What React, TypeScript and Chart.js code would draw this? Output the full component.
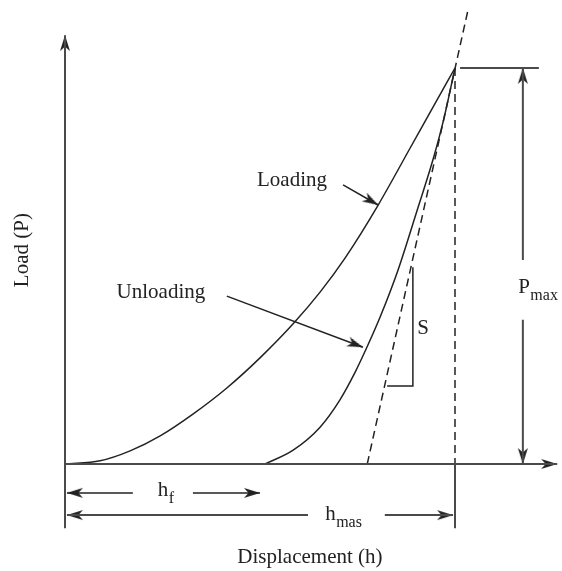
import React, { useEffect, useRef } from "react";
import { Chart, registerables } from "chart.js";

Chart.register(...registerables);

// ---- Data (displacement h and load P in arbitrary units, h_max = 10, P_max = 10) ----
const hLoading = [0, 0.9, 1.67, 2.44, 3.28, 4.15, 5.0, 5.85, 6.54, 7.18, 8.03, 8.85, 9.44, 10];
const pLoading = [0, 0.08, 0.33, 0.71, 1.26, 1.92, 2.68, 3.54, 4.34, 5.2, 6.54, 7.98, 9.02, 10];

const hUnloading = [5.13, 5.85, 6.54, 7.05, 7.44, 7.77, 8.08, 8.54, 9.03, 9.44, 9.72, 10];
const pUnloading = [0, 0.35, 0.93, 1.62, 2.32, 3.01, 3.71, 4.9, 6.41, 7.7, 8.74, 10];

// tangent (stiffness S) line: through (7.75, 0) and the peak
const hTangent = [7.75, 10.33];
const pTangent = [0, 11.45];

// guide / dimension lines (x values, y values)
const yAxisH = [0, 0];
const yAxisP = [0, 10.83];
const xAxisH = [0, 12.62];
const xAxisP = [0, 0];
const peakDropH = [10, 10];
const peakDropP = [10, 0];
const tickLeftH = [0, 0];
const tickLeftP = [0, -1.62];
const tickRightH = [10, 10];
const tickRightP = [0, -1.62];
const pMaxRefH = [10.13, 12.15];
const pMaxRefP = [10, 10];
const pMaxUpperH = [11.74, 11.74];
const pMaxUpperP = [10, 5.15];
const pMaxLowerH = [11.74, 11.74];
const pMaxLowerP = [3.64, 0];
const slopeTriH = [8.26, 8.92, 8.92];
const slopeTriP = [1.97, 1.97, 4.97];
const hfLeftH = [0.05, 1.74];
const hfRightH = [3.28, 5.0];
const hfP = [-0.73, -0.73];
const hmasLeftH = [0.05, 6.23];
const hmasRightH = [8.2, 9.95];
const hmasP = [-1.29, -1.29];
const loadPtrH = [7.13, 8.03];
const loadPtrP = [7.05, 6.54];
const unloadPtrH = [4.15, 7.64];
const unloadPtrP = [4.24, 2.95];

// arrow heads: tip (x, y) and the point it comes from (fx, fy)
const arrowTipH = [0, 12.62, 11.74, 11.74, 0.05, 5.0, 0.05, 9.95, 8.03, 7.64];
const arrowTipP = [10.83, 0, 10, 0, -0.73, -0.73, -1.29, -1.29, 6.54, 2.95];
const arrowFromH = [0, 0, 11.74, 11.74, 1, 4, 1, 9, 7.13, 4.15];
const arrowFromP = [0, 0, 5, 4, -0.73, -0.73, -1.29, -1.29, 7.05, 4.24];

// text labels
const plainLabels = ["Loading", "Unloading", "S"];
const plainLabelH = [5.82, 2.46, 9.18];
const plainLabelP = [7.15, 4.34, 3.43];

const subMain = ["P", "h", "h"];
const subText = ["max", "f", "mas"];
const subLabelH = [11.62, 2.38, 6.67];
const subLabelP = [4.32, -0.81, -1.41];

const xTitle = "Displacement (h)";
const xTitlePos = [6.28, -2.36];
const yTitle = "Load (P)";
const yTitlePos = [-1.08, 5.4];

const INK = "#222222";
const AXIS = "#4a4a4a";
const FONT = "'Liberation Serif', 'Times New Roman', serif";

const pts = (xs: number[], ys: number[]) => xs.map((x, i) => ({ x, y: ys[i] }));

function makeArrowHead(): HTMLCanvasElement {
  const c = document.createElement("canvas");
  c.width = 36;
  c.height = 18;
  const g = c.getContext("2d")!;
  g.fillStyle = INK;
  g.beginPath();
  g.moveTo(18, 9);
  g.lineTo(2, 4);
  g.lineTo(6.5, 9);
  g.lineTo(2, 14);
  g.closePath();
  g.fill();
  return c;
}

const line = (data: { x: number; y: number }[], opts: any = {}) => ({
  data,
  showLine: true,
  borderColor: INK,
  borderWidth: 1.5,
  pointRadius: 0,
  pointHoverRadius: 0,
  fill: false,
  ...opts,
});

const textPlugin = {
  id: "schematicText",
  afterDatasetsDraw(chart: any) {
    const { ctx, scales } = chart;
    const X = (v: number) => scales.x.getPixelForValue(v);
    const Y = (v: number) => scales.y.getPixelForValue(v);
    ctx.save();
    ctx.fillStyle = INK;
    ctx.font = `21px ${FONT}`;
    ctx.textAlign = "center";
    ctx.textBaseline = "middle";
    plainLabels.forEach((t, i) => ctx.fillText(t, X(plainLabelH[i]), Y(plainLabelP[i])));
    ctx.fillText(xTitle, X(xTitlePos[0]), Y(xTitlePos[1]));
    ctx.save();
    ctx.translate(X(yTitlePos[0]), Y(yTitlePos[1]));
    ctx.rotate(-Math.PI / 2);
    ctx.fillText(yTitle, 0, 0);
    ctx.restore();
    ctx.textAlign = "left";
    ctx.textBaseline = "alphabetic";
    subMain.forEach((t, i) => {
      const x0 = X(subLabelH[i]);
      const y0 = Y(subLabelP[i]);
      ctx.font = `21px ${FONT}`;
      ctx.fillText(t, x0, y0);
      const w = ctx.measureText(t).width;
      ctx.font = `16px ${FONT}`;
      ctx.fillText(subText[i], x0 + w + 0.5, y0 + 7);
    });
    ctx.restore();
  },
};

const W = 562;
const H = 571;

export default function App() {
  const ref = useRef<HTMLCanvasElement | null>(null);
  useEffect(() => {
    if (!ref.current) return;
    const arrowImg = makeArrowHead();
    const arrowData = arrowTipH.map((x, i) => ({
      x,
      y: arrowTipP[i],
      fx: arrowFromH[i],
      fy: arrowFromP[i],
    }));
    const dashed = { borderDash: [8, 5], borderWidth: 1.5 };
    const axisStyle = { borderColor: AXIS, borderWidth: 2 };
    const chart = new Chart(ref.current, {
      type: "scatter",
      data: {
        datasets: [
          line(pts(yAxisH, yAxisP), axisStyle),
          line(pts(xAxisH, xAxisP), axisStyle),
          line(pts(tickLeftH, tickLeftP), axisStyle),
          line(pts(tickRightH, tickRightP), axisStyle),
          line(pts(hLoading, pLoading), { cubicInterpolationMode: "monotone", label: "Loading" }),
          line(pts(hUnloading, pUnloading), { cubicInterpolationMode: "monotone", label: "Unloading" }),
          line(pts(hTangent, pTangent), dashed),
          line(pts(peakDropH, peakDropP), dashed),
          line(pts(pMaxRefH, pMaxRefP), axisStyle),
          line(pts(pMaxUpperH, pMaxUpperP), axisStyle),
          line(pts(pMaxLowerH, pMaxLowerP), axisStyle),
          line(pts(slopeTriH, slopeTriP)),
          line(pts(hfLeftH, hfP)),
          line(pts(hfRightH, hfP)),
          line(pts(hmasLeftH, hmasP), axisStyle),
          line(pts(hmasRightH, hmasP), axisStyle),
          line(pts(loadPtrH, loadPtrP)),
          line(pts(unloadPtrH, unloadPtrP)),
          {
            data: arrowData,
            showLine: false,
            pointRadius: 6,
            pointHoverRadius: 6,
            pointStyle: arrowImg,
            rotation: (c: any) => {
              const p = c.raw;
              if (!p) return 0;
              const sx = c.chart.scales.x;
              const sy = c.chart.scales.y;
              const dx = sx.getPixelForValue(p.x) - sx.getPixelForValue(p.fx);
              const dy = sy.getPixelForValue(p.y) - sy.getPixelForValue(p.fy);
              return (Math.atan2(dy, dx) * 180) / Math.PI;
            },
          } as any,
        ],
      },
      options: {
        animation: false,
        responsive: false,
        maintainAspectRatio: false,
        events: [],
        layout: { padding: 0, autoPadding: false },
        plugins: { legend: { display: false }, tooltip: { enabled: false } },
        scales: {
          x: { type: "linear", min: -65 / 39, max: (W - 65) / 39, display: false },
          y: { type: "linear", min: -(H - 464) / 39.6, max: 464 / 39.6, display: false },
        },
      },
      plugins: [textPlugin],
    } as any);
    return () => chart.destroy();
  }, []);
  return (
    <div style={{ position: "absolute", left: 0, top: 0, width: W, height: H, background: "#fff", overflow: "hidden" }}>
      <canvas ref={ref} width={W} height={H} style={{ display: "block" }} />
    </div>
  );
}
